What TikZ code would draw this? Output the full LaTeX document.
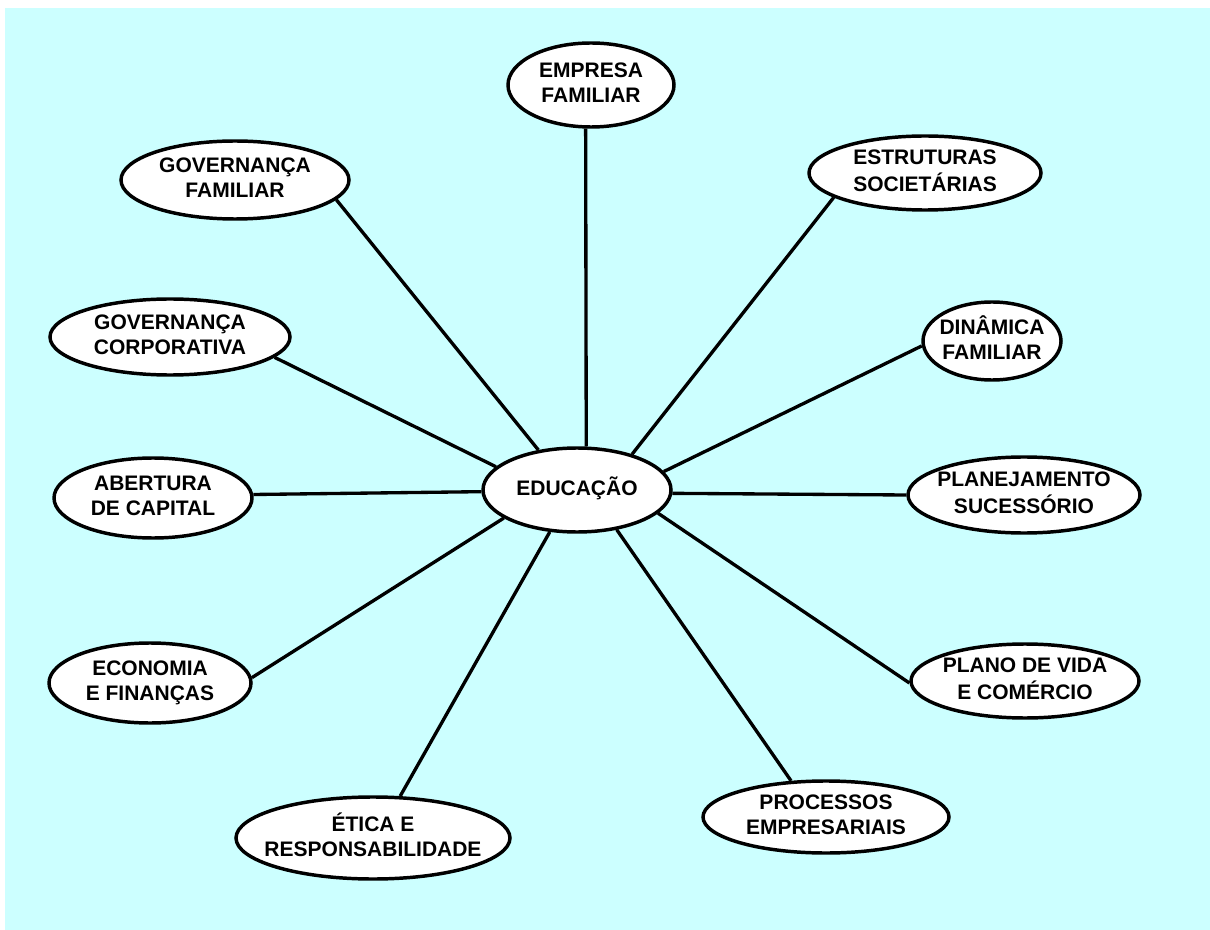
\documentclass[tikz,border=0pt]{standalone}
\usepackage{fontspec}
\setmainfont{Liberation Sans}
\usetikzlibrary{shapes.geometric}
\definecolor{bgcyan}{RGB}{204,255,255}
% two centred lines of bold text that never widen the ellipse around them
\newcommand{\topictext}[1]{\makebox[0pt]{\begin{tabular}{@{}c@{}}#1\end{tabular}}}
\begin{document}
\begin{tikzpicture}[x=0.75pt,y=-0.75pt,
  topic/.style 2 args={ellipse, draw=black, fill=white, line width=2.6pt,
    inner sep=0pt, minimum width=#1*1.5pt, minimum height=#2*1.5pt,
    font=\fontsize{15.75}{18.75}\selectfont\bfseries},
  link/.style={draw=black, line width=2.5pt}]
\useasboundingbox (0,0) rectangle (1210,930);
\fill[bgcyan] (5,8) rectangle (1210,930);

% hub
\node[topic={94}{42}] (edu) at (577,490) {\topictext{EDUCAÇÃO}};

% surrounding topics
\node[topic={83}{42}]  (emp) at (591,85)  {\topictext{EMPRESA\\FAMILIAR}};
\node[topic={114}{39}] (gf)  at (235,180) {\topictext{GOVERNANÇA\\FAMILIAR}};
\node[topic={116}{37}] (est) at (925,173) {\topictext{ESTRUTURAS\\SOCIETÁRIAS}};
\node[topic={120}{38}] (gc)  at (170,337) {\topictext{GOVERNANÇA\\CORPORATIVA}};
\node[topic={69}{39}]  (din) at (992,341) {\topictext{DINÂMICA\\FAMILIAR}};
\node[topic={99}{40}]  (abt) at (153,498) {\topictext{ABERTURA\\DE CAPITAL}};
\node[topic={116}{38}] (pla) at (1024,495) {\topictext{PLANEJAMENTO\\SUCESSÓRIO}};
\node[topic={101}{40}] (eco) at (150,683) {\topictext{ECONOMIA\\E FINANÇAS}};
\node[topic={114}{37}] (pv)  at (1025,681) {\topictext{PLANO DE VIDA\\E COMÉRCIO}};
\node[topic={137}{41}] (eti) at (373,838) {\topictext{ÉTICA E\\RESPONSABILIDADE}};
\node[topic={123}{36}] (pro) at (826,817) {\topictext{PROCESSOS\\EMPRESARIAIS}};

% spokes
\draw[link] (edu.78)  -- (emp.263);
\draw[link] (edu.134) -- (gf.-11);
\draw[link] (edu.33)  -- (est.195);
\draw[link] (edu.164) -- (gc.-11);
\draw[link] (edu.12)  -- (din.184);
\draw[link] (edu.181) -- (abt.2);
\draw[link] (edu.-2)  -- (pla.180);
\draw[link] (edu.201) -- (eco.3);
\draw[link] (edu.-16) -- (pv.181);
\draw[link] (edu.237) -- (eti.57);
\draw[link] (edu.-45) -- (pro.134);
\end{tikzpicture}
\end{document}
